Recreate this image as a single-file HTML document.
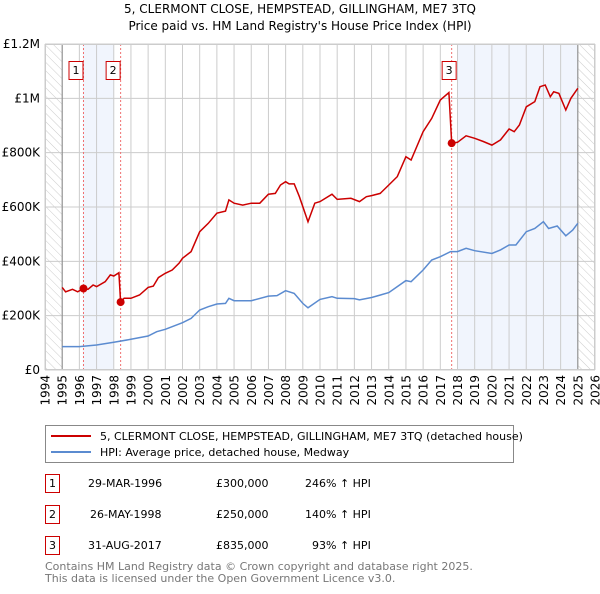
<!DOCTYPE html>
<html><head><meta charset="utf-8"><style>
body{margin:0;width:600px;height:590px;background:#fff;font-family:"DejaVu Sans","Liberation Sans",sans-serif;overflow:hidden}
svg text{font-family:"DejaVu Sans","Liberation Sans",sans-serif}
</style></head><body>
<svg width="600" height="590">
<defs><pattern id="hatch" width="6" height="6" patternUnits="userSpaceOnUse" patternTransform="rotate(-45)"><line x1="0" y1="0" x2="0" y2="6" stroke="#ccc" stroke-width="1"/></pattern></defs>
<text x="300" y="13" text-anchor="middle" font-size="12">5, CLERMONT CLOSE, HEMPSTEAD, GILLINGHAM, ME7 3TQ</text>
<text x="300" y="30" text-anchor="middle" font-size="12">Price paid vs. HM Land Registry's House Price Index (HPI)</text>
<g id="plot"></g>
<g id="legend">
<rect x="45.5" y="425.5" width="468" height="37" fill="#fff" stroke="#888"/>
<line x1="51" y1="436" x2="91" y2="436" stroke="#cc0000" stroke-width="2"/>
<text x="100" y="440" font-size="11">5, CLERMONT CLOSE, HEMPSTEAD, GILLINGHAM, ME7 3TQ (detached house)</text>
<line x1="51" y1="452" x2="91" y2="452" stroke="#5b8bd0" stroke-width="2"/>
<text x="100" y="456" font-size="11">HPI: Average price, detached house, Medway</text>
</g>
<g id="table" font-size="11">
<g><rect x="45.5" y="474.5" width="14" height="18" fill="#fff" stroke="#c00"/><text x="52.5" y="487" text-anchor="middle">1</text><text x="88" y="487">29-MAR-1996</text><text x="216" y="487">£300,000</text><text x="305" y="487">246% ↑ HPI</text></g>
<g><rect x="45.5" y="505.5" width="14" height="18" fill="#fff" stroke="#c00"/><text x="52.5" y="518" text-anchor="middle">2</text><text x="90" y="518">26-MAY-1998</text><text x="216" y="518">£250,000</text><text x="305" y="518">140% ↑ HPI</text></g>
<g><rect x="45.5" y="536.5" width="14" height="18" fill="#fff" stroke="#c00"/><text x="52.5" y="549" text-anchor="middle">3</text><text x="88" y="549">31-AUG-2017</text><text x="216" y="549">£835,000</text><text x="312" y="549">93% ↑ HPI</text></g>
</g>
<text x="45" y="570" font-size="11" fill="#777">Contains HM Land Registry data © Crown copyright and database right 2025.</text>
<text x="45" y="582" font-size="11" fill="#777">This data is licensed under the Open Government Licence v3.0.</text>
</svg>
<script>
const hpiYears=[1995,1996,1997,1998,1999,2000,2000.5,2001,2002,2002.5,2003,2003.5,2004,2004.5,2004.7,2005,2006,2007,2007.5,2008,2008.5,2009,2009.3,2010,2010.7,2011,2012,2012.3,2013,2014,2014.5,2015,2015.3,2016,2016.5,2017,2017.6,2018,2018.5,2019,2020,2020.5,2021,2021.4,2022,2022.5,2023,2023.3,2023.8,2024.3,2024.7,2025];
const hpiValues=[86,86,92,102,113,125,141,150,174,190,221,233,243,245,264,255,255,272,274,292,282,245,229,260,270,264,263,258,267,285,307,329,325,368,405,417,436,436,448,439,429,442,460,460,509,521,546,521,530,494,515,540];
const propYears=[1995,1995.2,1995.6,1995.9,1996.24,1996.5,1996.8,1997,1997.5,1997.8,1998,1998.3,1998.4,1998.6,1999,1999.5,2000,2000.3,2000.6,2001,2001.4,2001.8,2002,2002.5,2003,2003.5,2004,2004.5,2004.7,2005,2005.5,2006,2006.5,2007,2007.4,2007.7,2008,2008.2,2008.5,2008.8,2009.3,2009.7,2010,2010.7,2011,2011.8,2012.3,2012.7,2013,2013.5,2014,2014.5,2015,2015.3,2016,2016.5,2017,2017.5,2017.66,2018,2018.5,2019,2019.5,2020,2020.5,2021,2021.3,2021.6,2022,2022.5,2022.8,2023.1,2023.4,2023.6,2023.9,2024.3,2024.6,2025];
const propValues=[304,288,297,288,300,297,313,307,325,350,346,358,250,264,264,276,304,309,340,356,368,393,411,436,509,540,577,585,626,614,607,614,614,647,650,681,693,685,685,638,546,614,620,647,628,632,620,638,642,650,681,712,785,773,877,926,994,1021,835,838,862,853,841,828,847,887,877,902,969,988,1043,1049,1006,1024,1018,957,1000,1037];
const saleYears=[1996.24,1998.4,2017.66];
const saleValues=[300,250,835];
const saleLabels=["1","2","3"];
const yTicks=[0,200,400,600,800,1000,1200];
const yTickLabels=["£0","£200K","£400K","£600K","£800K","£1M","£1.2M"];
const xTicks=[];for(let y=1994;y<=2026;y++)xTicks.push(y);

const L=45,R=595,T=44,B=370,Y0=1994,Y1=2026,VMAX=1200;
const xs=y=>L+(y-Y0)/(Y1-Y0)*(R-L);
const ys=v=>B-v/VMAX*(B-T);
const NS="http://www.w3.org/2000/svg";
const plot=document.getElementById('plot');
function mk(tag,attrs,parent){const e=document.createElementNS(NS,tag);for(const k in attrs)e.setAttribute(k,attrs[k]);(parent||plot).appendChild(e);return e;}
// shading
let e;
e=mk('rect',{x:xs(1996.2),y:T,width:xs(1998.0)-xs(1996.2),height:B-T,fill:'#eef3fc',opacity:0.8});


e=mk('rect',{x:xs(2018.0),y:T,width:xs(2025.0)-xs(2018.0),height:B-T,fill:'#eef3fc',opacity:0.8});


e=mk('rect',{x:L,y:T,width:xs(1995)-L,height:B-T,fill:'url(#hatch)'});


e=mk('rect',{x:xs(2025),y:T,width:R-xs(2025),height:B-T,fill:'url(#hatch)'});


// grid
xTicks.forEach(y=>{
  e=mk('line',{x1:xs(y),x2:xs(y),y1:T,y2:B,stroke:'#ccc','stroke-width':1});
  
  
  const t=mk('text',{x:0,y:0,'font-size':12,'text-anchor':'end',transform:`translate(${xs(y)+4.5},375) rotate(-90)`});
  t.textContent=y;
  
  
});
yTicks.forEach((v,i)=>{
  e=mk('line',{x1:L,x2:R,y1:ys(v),y2:ys(v),stroke:'#ccc','stroke-width':1});
  
  
  const t=mk('text',{x:40,y:ys(v)+4,'font-size':12,'text-anchor':'end'});
  t.textContent=yTickLabels[i];
  
  
});
e=mk('line',{x1:xs(1995),x2:xs(1995),y1:T,y2:B,stroke:'#888'});


e=mk('line',{x1:xs(2025),x2:xs(2025),y1:T,y2:B,stroke:'#888'});


// sale vlines
saleYears.forEach((y,i)=>{
  e=mk('line',{x1:xs(y),x2:xs(y),y1:T,y2:B,stroke:'#f07070','stroke-dasharray':'2,2'});
  
  
});
// series
const path=(xa,va)=>xa.map((y,i)=>(i?'L':'M')+xs(y).toFixed(1)+','+ys(va[i]).toFixed(1)).join('');
e=mk('path',{d:path(hpiYears,hpiValues),fill:'none',stroke:'#5b8bd0','stroke-width':1.5});


e=mk('path',{d:path(propYears,propValues),fill:'none',stroke:'#cc0000','stroke-width':1.5});


saleYears.forEach((y,i)=>{
  e=mk('circle',{cx:xs(y),cy:ys(saleValues[i]),r:4,fill:'#cc0000'});
  
  
  const bx=xs(y)-(i==2?3:8)-7;
  e=mk('rect',{x:bx+0.5,y:61.5,width:14,height:18,fill:'#fff',stroke:'#c00'});
  
  
  const t=mk('text',{x:bx+7.5,y:74,'font-size':11,'text-anchor':'middle'});
  t.textContent=saleLabels[i];
  
  
});
e=mk('rect',{x:L+0.5,y:T+0.5,width:R-L-1,height:B-T-1,fill:'none',stroke:'#ccc'});


</script>
</body></html>
